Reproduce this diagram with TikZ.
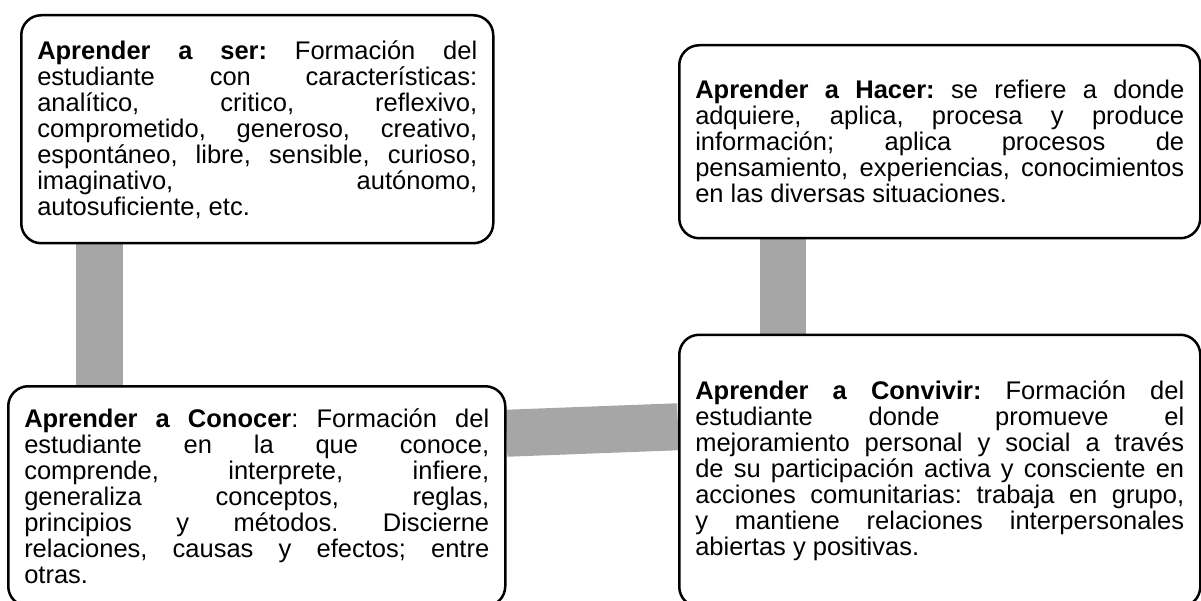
\documentclass[tikz,border=0pt]{standalone}
\usepackage{fontspec}
\setmainfont{Liberation Sans}
\usetikzlibrary{
  positioning,
  backgrounds
}
\definecolor{linkgray}{HTML}{A6A6A6}
\tolerance=10000
\hyphenpenalty=10000
\frenchspacing

\begin{document}
\begin{tikzpicture}[
  x=1pt, y=-1pt,
  card/.style={draw, line width=2.5pt, rounded corners=20pt, fill=white,
    inner xsep=16pt, inner ysep=0pt, align=justify,
    font=\fontsize{25.5pt}{26pt}\selectfont},
  link/.style={draw=linkgray, line width=47pt}
]

  \useasboundingbox (0,0) rectangle (1201,601);
  \clip (0,0) rectangle (1201,601);

  % Pilares
  \node[card, anchor=north west, text width=440pt, minimum height=228pt] (ser) at (20,14)
    {\textbf{Aprender a ser:} Formación del\linebreak
     estudiante con características:\linebreak
     analítico, critico, reflexivo,\linebreak
     comprometido, generoso, creativo,\linebreak
     espontáneo, libre, sensible, curioso,\linebreak
     imaginativo, autónomo,\linebreak
     autosuficiente, etc.};
  \node[card, anchor=north west, text width=465pt, minimum height=220pt] (cono) at (7,385)
    {\textbf{Aprender a Conocer}: Formación del\linebreak
     estudiante en la que conoce,\linebreak
     comprende, interprete, infiere,\linebreak
     generaliza conceptos, reglas,\linebreak
     principios y métodos. Discierne\linebreak
     relaciones, causas y efectos; entre\linebreak
     otras.};
  \node[card, anchor=north west, text width=489pt, minimum height=193pt] (hacer) at (678,44)
    {\textbf{Aprender a Hacer:} se refiere a donde\linebreak
     adquiere, aplica, procesa y produce\linebreak
     información; aplica procesos de\linebreak
     pensamiento, experiencias, conocimientos\linebreak
     en las diversas situaciones.};
  \node[card, below=94pt of hacer.south west, anchor=north west, text width=489pt,
    minimum height=272pt] (conv)
    {\textbf{Aprender a Convivir:} Formación del\linebreak
     estudiante donde promueve el\linebreak
     mejoramiento personal y social a través\linebreak
     de su participación activa y consciente en\linebreak
     acciones comunitarias: trabaja en grupo,\linebreak
     y mantiene relaciones interpersonales\linebreak
     abiertas y positivas.};

  % Enlaces
  \begin{scope}[on background layer]
    \draw[link] ([xshift=79pt]ser.south west) -- ([xshift=79pt]ser.south west |- cono.north);
    \draw[link, line width=46pt] ([xshift=105pt]hacer.south west) -- ([xshift=105pt]hacer.south west |- conv.north);
    \draw[link] ([yshift=63pt]cono.east) -- ([yshift=44pt]conv.west);
  \end{scope}

\end{tikzpicture}
\end{document}
